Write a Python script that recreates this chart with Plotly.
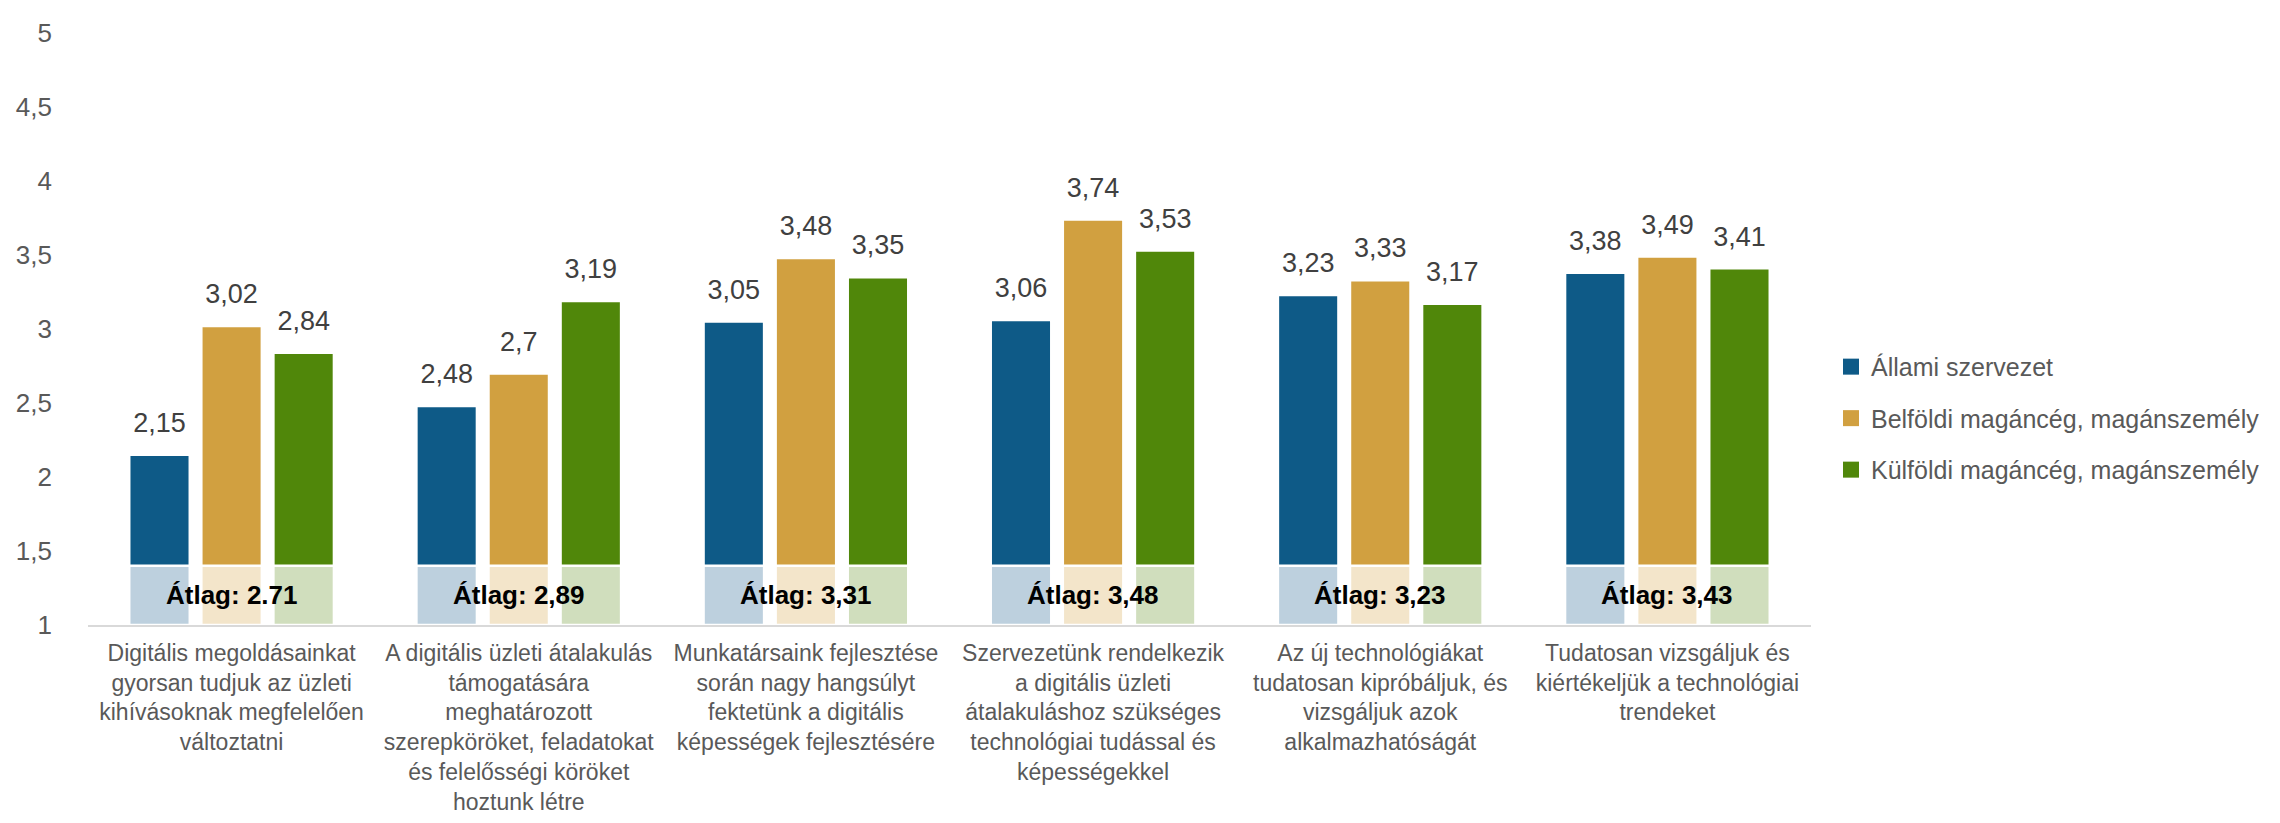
import plotly.graph_objects as go

categories = [
    "Digitális megoldásainkat<br>gyorsan tudjuk az üzleti<br>kihívásoknak megfelelően<br>változtatni",
    "A digitális üzleti átalakulás<br>támogatására<br>meghatározott<br>szerepköröket, feladatokat<br>és felelősségi köröket<br>hoztunk létre",
    "Munkatársaink fejlesztése<br>során nagy hangsúlyt<br>fektetünk a digitális<br>képességek fejlesztésére",
    "Szervezetünk rendelkezik<br>a digitális üzleti<br>átalakuláshoz szükséges<br>technológiai tudással és<br>képességekkel",
    "Az új technológiákat<br>tudatosan kipróbáljuk, és<br>vizsgáljuk azok<br>alkalmazhatóságát",
    "Tudatosan vizsgáljuk és<br>kiértékeljük a technológiai<br>trendeket",
]
series_names = ["Állami szervezet", "Belföldi magáncég, magánszemély", "Külföldi magáncég, magánszemély"]
allami = [2.15, 2.48, 3.05, 3.06, 3.23, 3.38]
belfoldi = [3.02, 2.70, 3.48, 3.74, 3.33, 3.49]
kulfoldi = [2.84, 3.19, 3.35, 3.53, 3.17, 3.41]
averages = ["Átlag: 2.71", "Átlag: 2,89", "Átlag: 3,31", "Átlag: 3,48", "Átlag: 3,23", "Átlag: 3,43"]
y_ticks = [1, 1.5, 2, 2.5, 3, 3.5, 4, 4.5, 5]
y_ticktext = ["1", "1,5", "2", "2,5", "3", "3,5", "4", "4,5", "5"]

AXIS_MIN = 1
BAND_TOP = 1.4
AVG_Y = 1.2

dark_colors = ["#0E5A87", "#D1A040", "#50870A"]
light_colors = ["#BDD0DE", "#F3E5CA", "#D0DEBD"]

FONT = "Liberation Sans, Arial, sans-serif"
GAP = 0.247

def fmt(v):
    s = ("%.2f" % v).rstrip("0").rstrip(".")
    return s.replace(".", ",")

fig = go.Figure()
for i, (name, vals) in enumerate(zip(series_names, [allami, belfoldi, kulfoldi])):
    fig.add_trace(go.Bar(
        x=categories, y=[v - AXIS_MIN for v in vals], base=AXIS_MIN,
        name=name, offsetgroup=str(i), legendgroup=name, showlegend=False,
        marker=dict(color=dark_colors[i], line=dict(color="white", width=2.5)),
    ))
    fig.add_trace(go.Bar(
        x=categories, y=[BAND_TOP - AXIS_MIN] * len(categories), base=AXIS_MIN,
        offsetgroup=str(i), legendgroup=name, showlegend=False, hoverinfo="skip",
        marker=dict(color=light_colors[i], line=dict(color="white", width=2.5)),
    ))
for i, (name, vals) in enumerate(zip(series_names, [allami, belfoldi, kulfoldi])):
    # value labels (grouped scatter aligned with bars)
    fig.add_trace(go.Scatter(
        x=categories, y=vals, mode="markers+text", offsetgroup=str(i),
        marker=dict(size=24, opacity=0, color=dark_colors[i]),
        text=[fmt(v) for v in vals], textposition="top center",
        textfont=dict(family=FONT, size=27, color="#404040"),
        showlegend=False, hoverinfo="skip", cliponaxis=False,
    ))
for i, name in enumerate(series_names):
    # legend entry
    fig.add_trace(go.Scatter(
        x=[None], y=[None], mode="markers", name=name, legendgroup=name,
        marker=dict(symbol="square", size=17, color=dark_colors[i]),
        showlegend=True, hoverinfo="skip",
    ))

for c, a in zip(categories, averages):
    fig.add_annotation(x=c, y=AVG_Y, text="<b>%s</b>" % a, showarrow=False,
                       font=dict(family=FONT, size=26, color="black"),
                       xanchor="center", yanchor="middle")

fig.update_layout(
    width=2280, height=823,
    margin=dict(l=80, r=477, t=25, b=206, autoexpand=False),
    paper_bgcolor="white", plot_bgcolor="white",
    barmode="group", bargap=GAP, bargroupgap=0.16,
    scattermode="group", scattergap=GAP,
    font=dict(family=FONT, size=23, color="#595959"),
    showlegend=True,
    legend=dict(x=1.0116, xanchor="left", y=0.349, yanchor="middle",
                font=dict(family=FONT, size=25, color="#595959"),
                traceorder="grouped", tracegroupgap=16, itemsizing="trace"),
    xaxis=dict(showline=True, linecolor="#D9D9D9", linewidth=2, ticks="",
               tickangle=0, automargin=False, ticklabelstandoff=6,
               tickfont=dict(family=FONT, size=23, color="#595959"), showgrid=False),
    yaxis=dict(range=[1, 5], tickvals=y_ticks, ticktext=y_ticktext, showgrid=False,
               zeroline=False, showline=False, ticks="", ticklabelstandoff=35,
               automargin=False,
               tickfont=dict(family=FONT, size=26, color="#595959")),
)
fig.write_html("out.html")
